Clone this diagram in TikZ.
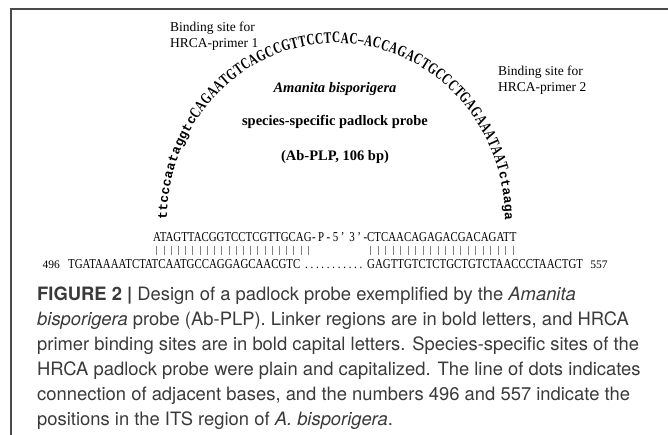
\documentclass[tikz,border=0pt]{standalone}
\usepackage{fontspec}
\setmainfont{Liberation Serif}
\setsansfont{TeX Gyre Heros}
\setmonofont{Liberation Mono}
\newfontfamily\seqfont[FakeStretch=0.8]{Liberation Serif}
\newfontfamily\arcfont[FakeStretch=0.7]{Liberation Serif}
\usetikzlibrary{decorations.text,positioning,calc}
\definecolor{captext}{HTML}{3A3A3A}
\definecolor{framegray}{HTML}{4A4A4A}
\newcommand\linkerfmt{\ttfamily\bfseries\fontsize{13}{13}\selectfont}
\newcommand\primerfmt{\arcfont\bfseries\fontsize{16}{16}\selectfont}

\begin{document}
\begin{tikzpicture}[x=1pt, y=-1pt,
  seq/.style={inner sep=0pt, font=\seqfont\fontsize{13.6}{13.6}\selectfont},
  posnum/.style={inner sep=0pt, font=\fontsize{11.5}{11.5}\selectfont},
  sitelabel/.style={inner sep=0pt, anchor=north west, align=left, font=\fontsize{13.5}{16}\selectfont},
  probetext/.style={inner sep=0pt, anchor=base, font=\bfseries\fontsize{14.5}{14.5}\selectfont},
  pairbar/.style={gray, line width=0.6pt}]
\useasboundingbox (0,0) rectangle (668,435);

% Frame
\draw[framegray, line width=1.6pt] (668,9) -- (11,9) -- (11,435);

% Padlock probe arc
\path[decorate, decoration={text along path, text align={fit to path},
  text={|\linkerfmt|ttcccaataggtc|\primerfmt|CAGAATGTCAGCCGTTCCTCAC{–}ACCAGACTGCCCTGAGAAATAAT|\linkerfmt|ctaaga}}]
  (167,220) arc[start angle=180, end angle=0, x radius=169pt, y radius=177pt];

% Binding sites
\node[sitelabel] (site1) at (170,22) {Binding site for\\HRCA-primer 1};
\node[sitelabel] (site2) at (498,66) {Binding site for\\HRCA-primer 2};

% Probe name
\node[probetext, font=\bfseries\itshape\fontsize{14.5}{14.5}\selectfont] (genus) at (335,93) {Amanita bisporigera};
\node[probetext] (probe) at (335,126) {species-specific padlock probe};
\node[probetext] (plp) at (335,161) {(Ab-PLP, 106 bp)};

% Target (ITS)
\node[seq, anchor=base west] (target1) at (68,269) {TGATAAAATCTATCAATGCCAGGAGCAACGTC};
\node[posnum, left=8pt of target1.base west, anchor=base east] (n496) {496};
\node[seq, right=3pt of target1.base east, anchor=base west] (dots)
  {\makebox[60pt]{\leaders\hbox to 5.45pt{\hss.\hss}\hfill}};
\node[seq, right=3pt of dots.base east, anchor=base west] (target2) {GAGTTGTCTCTGCTGTCTAACCCTAACTGT};
\node[posnum, right=7pt of target2.base east, anchor=base west] (n557) {557};

% Probe arms
\node[seq, anchor=base west] (armL) at (153,242) {ATAGTTACGGTCCTCGTTGCAG};
\node[seq, anchor=base west] (armR) at ($(target2.base west)+(0,-27)$) {CTCAACAGAGACGACAGATT};
\path let \p1=(armL.base east), \p2=(armR.base west), \n1={\x2-\x1} in
  node[seq, anchor=base west] (link) at (armL.base east)
  {\makebox[\n1][s]{-\hfill P\hfill -\hfill 5\hfill ’\hfill\hfill 3\hfill ’\hfill -}};

% Base pairing
\foreach \i in {0,...,21}
  \draw[pairbar] ($(armL.base west)!{(\i+0.5)/22}!(armL.base east)+(0,4)$) -- ++(0,9);
\foreach \i in {0,...,19}
  \draw[pairbar] ($(armR.base west)!{(\i+0.5)/20}!(armR.base east)+(0,4)$) -- ++(0,9);

% Caption
\node[inner sep=0pt, anchor=north west, align=left, text=captext,
  font=\sffamily\fontsize{18.4}{25}\selectfont] (caption) at (37,287)
  {\textbf{FIGURE 2 |} Design of a padlock probe exemplified by the \textit{Amanita}\\
   \textit{bisporigera} probe (Ab-PLP). Linker regions are in bold letters, and HRCA\\
   primer binding sites are in bold capital letters. Species-specific sites of the\\
   HRCA padlock probe were plain and capitalized. The line of dots indicates\\
   connection of adjacent bases, and the numbers 496 and 557 indicate the\\
   positions in the ITS region of \textit{A. bisporigera}.};
\end{tikzpicture}
\end{document}
